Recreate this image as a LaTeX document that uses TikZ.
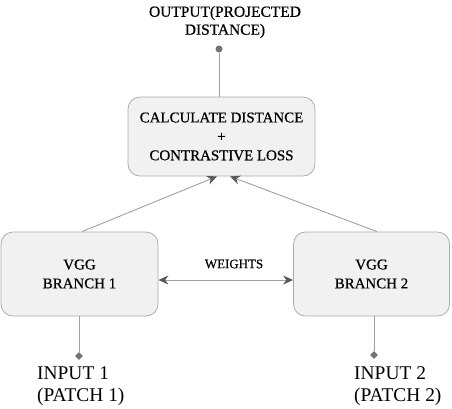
\documentclass[tikz,border=0pt]{standalone}
\usepackage{fontspec}
\setmainfont{Liberation Serif}[BoldFont=Liberation Serif, BoldFeatures={FakeBold=0.6}]
\usetikzlibrary{arrows.meta,shapes.geometric}
\definecolor{boxfill}{HTML}{F1F1F1}
\definecolor{boxline}{HTML}{ACACAC}
\definecolor{connline}{HTML}{A0A0A0}
\definecolor{tipcol}{HTML}{5A5A5A}
\definecolor{txt}{HTML}{000000}
\begin{document}
\begin{tikzpicture}[x=1bp,y=-1bp,
  procbox/.style={draw=boxline, fill=boxfill, line width=0.8bp, rounded corners=12bp,
    align=center, inner sep=0pt, text=txt, font=\fontsize{15}{19}\selectfont\bfseries},
  conn/.style={draw=connline, line width=0.9bp},
  arr/.style={conn, -{Stealth[length=10bp,width=9bp,color=tipcol]}},
  darr/.style={conn, {Stealth[length=10bp,width=9bp,color=tipcol]}-{Stealth[length=10bp,width=9bp,color=tipcol]}},
  lbl/.style={text=txt, inner sep=0pt},
  enddot/.style={circle, fill=tipcol!85, draw=none, minimum size=7bp, inner sep=0pt},
  enddiam/.style={diamond, fill=tipcol!85, draw=none, minimum size=8bp, inner sep=0pt}
]
\useasboundingbox (0,0) rectangle (452,408);

\node[procbox, minimum width=187bp, minimum height=79bp] (top) at (221.5,136.5)
  {CALCULATE DISTANCE\\+\\CONTRASTIVE LOSS};
\node[procbox, minimum width=157bp, minimum height=84bp] (left) at (79.5,274)
  {VGG\\BRANCH 1};
\node[procbox, minimum width=156bp, minimum height=84bp] (right) at (371.5,274)
  {VGG\\BRANCH 2};

\node[enddot] (out) at (219,49) {};
\node[lbl, align=center, font=\fontsize{15.5}{18}\selectfont\bfseries] (outtxt) at (225,22)
  {OUTPUT(PROJECTED\\DISTANCE)};

\node[enddiam] (d1) at (79,356) {};
\node[enddiam] (d2) at (374,355) {};
\node[lbl, align=left, anchor=north west, font=\fontsize{19.5}{23}\selectfont] (in1) at (37,366)
  {INPUT 1\\(PATCH 1)};
\node[lbl, align=left, anchor=north west, font=\fontsize{19.5}{23}\selectfont] (in2) at (354,366)
  {INPUT 2\\(PATCH 2)};

\draw[conn] (out |- top.north) -- (out);
\draw[arr] ([xshift=2.5bp]left.north) -- ([xshift=-4.5bp]top.south);
\draw[arr] ([xshift=5.5bp]right.north) -- ([xshift=8.5bp]top.south);
\draw[darr] ([yshift=-6bp]left.east) -- ([yshift=-6bp]right.west);
\node[lbl, font=\fontsize{13}{15}\selectfont\bfseries] (w) at (234,264) {WEIGHTS};
\draw[conn] (d1 |- left.south) -- (d1);
\draw[conn] (d2 |- right.south) -- (d2);
\end{tikzpicture}
\end{document}
